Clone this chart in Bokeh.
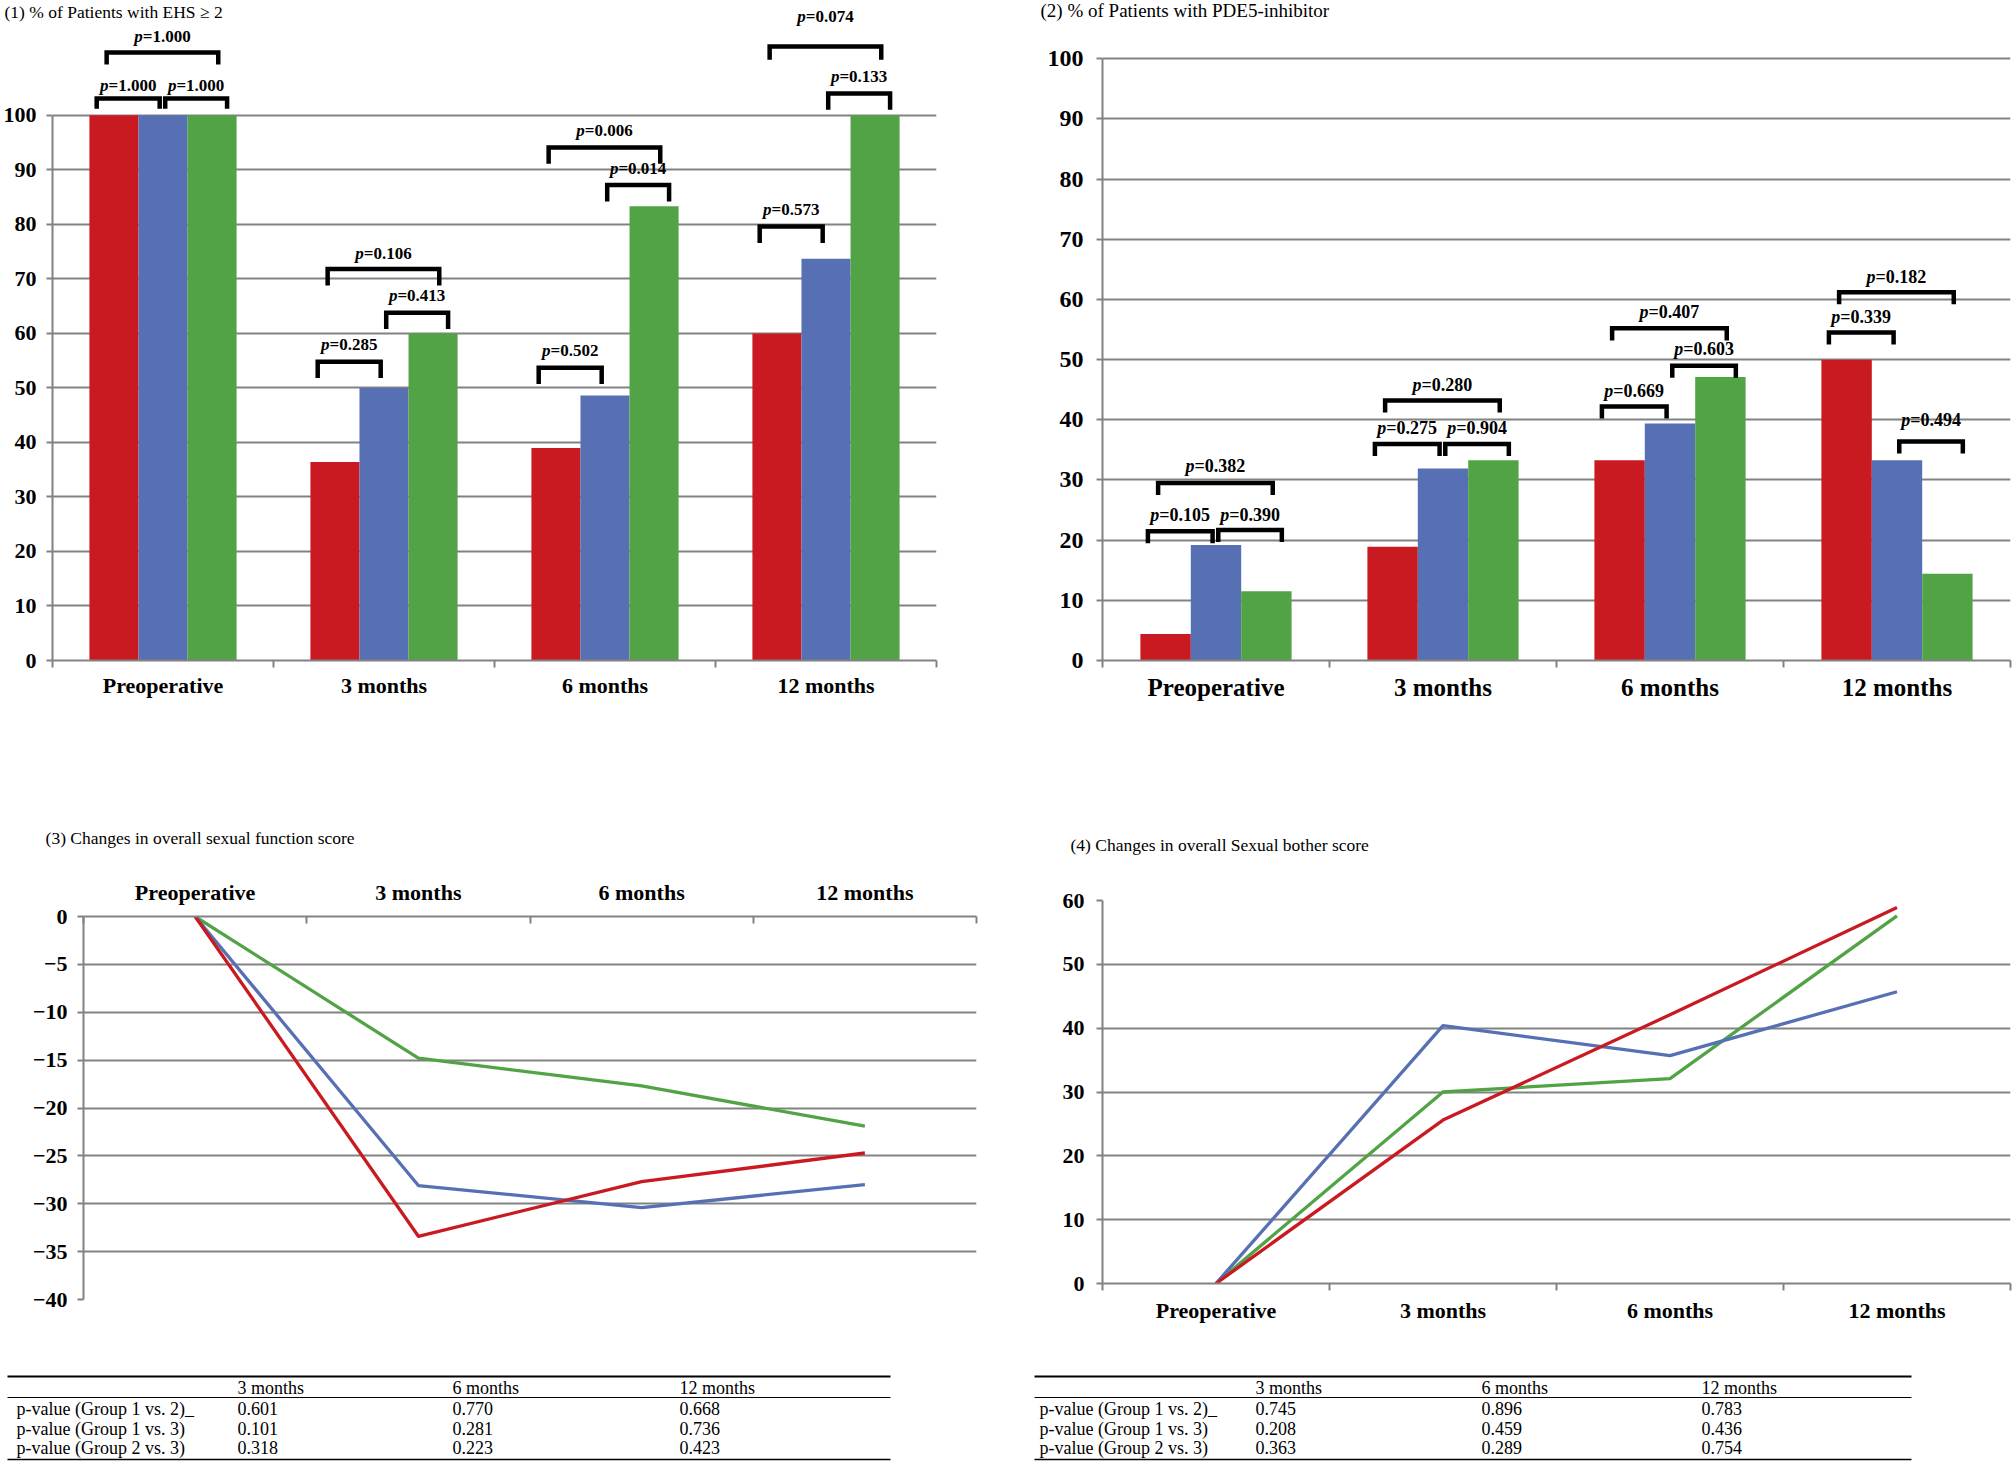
from bokeh.plotting import figure
from bokeh.models import Range1d, FixedTicker, ColumnDataSource
from bokeh.layouts import row, column
from bokeh.embed import file_html
from bokeh.resources import INLINE
from bokeh.core.properties import value

# ---------------- data ----------------
categories = ["Preoperative", "3 months", "6 months", "12 months"]

ehs_group1 = [100, 36.4, 39.0, 60.0]
ehs_group2 = [100, 50.0, 48.6, 73.7]
ehs_group3 = [100, 60.0, 83.3, 100]

pde_group1 = [4.4, 18.9, 33.3, 50.0]
pde_group2 = [19.2, 31.9, 39.4, 33.3]
pde_group3 = [11.5, 33.3, 47.1, 14.4]

func_group1 = [0, -33.4, -27.7, -24.7]
func_group2 = [0, -28.1, -30.4, -28.0]
func_group3 = [0, -14.8, -17.7, -21.9]

bother_group1 = [0, 25.6, 42.1, 58.9]
bother_group2 = [0, 40.4, 35.7, 45.7]
bother_group3 = [0, 30.0, 32.1, 57.6]

# p-values shown over bars: (category index, pair of groups, p-value)
ehs_pvalues = [
    (0, "12", "1.000"), (0, "23", "1.000"), (0, "13", "1.000"),
    (1, "12", "0.285"), (1, "23", "0.413"), (1, "13", "0.106"),
    (2, "12", "0.502"), (2, "23", "0.014"), (2, "13", "0.006"),
    (3, "12", "0.573"), (3, "23", "0.133"), (3, "13", "0.074"),
]
pde_pvalues = [
    (0, "12", "0.105"), (0, "23", "0.390"), (0, "13", "0.382"),
    (1, "12", "0.275"), (1, "23", "0.904"), (1, "13", "0.280"),
    (2, "12", "0.669"), (2, "23", "0.603"), (2, "13", "0.407"),
    (3, "12", "0.339"), (3, "23", "0.494"), (3, "13", "0.182"),
]

table_cols = ["3 months", "6 months", "12 months"]
table_rows = ["p-value (Group 1 vs. 2)_", "p-value (Group 1 vs. 3)", "p-value (Group 2 vs. 3)"]
func_table = [["0.601", "0.770", "0.668"],
              ["0.101", "0.281", "0.736"],
              ["0.318", "0.223", "0.423"]]
bother_table = [["0.745", "0.896", "0.783"],
                ["0.208", "0.459", "0.436"],
                ["0.363", "0.289", "0.754"]]

# ---------------- layout / style (not data) ----------------
RED, BLUE, GREEN = "#CA1A21", "#5670B3", "#52A346"
GRID = "#828282"
SERIF = "Liberation Serif"

# bracket geometry: (top of bracket, label centre) in axis units, same order as p-value lists
ehs_bracket_pos = [(103.1, 105.4), (103.1, 105.4), (111.5, 114.5),
                   (54.8, 57.9), (63.8, 67.0), (71.8, 74.6),
                   (53.7, 56.8), (87.2, 90.2), (94.1, 97.2),
                   (79.6, 82.7), (104.0, 107.2), (112.6, 118.1)]
ehs_leg = [1.9, 1.9, 2.2, 3.0, 3.0, 3.0, 3.0, 3.0, 3.0, 3.0, 3.0, 2.4]
pde_bracket_pos = [(21.5, 24.1), (21.7, 24.1), (29.5, 32.3),
                   (36.0, 38.6), (36.0, 38.6), (43.2, 45.8),
                   (42.2, 44.8), (49.0, 51.8), (55.2, 57.9),
                   (54.5, 57.1), (36.4, 39.9), (61.2, 63.8)]
pde_leg = [2.0] * 12
pair_span = {"12": (-0.30, -0.015), "23": (0.01, 0.29), "13": (-0.255, 0.25)}
bar_off = [-0.222, 0.0, 0.222]
bar_w = 0.222


def base_fig(w, h, l, r, t, b, yr, xloc="below"):
    p = figure(width=w, height=h, x_range=Range1d(0, 4), y_range=Range1d(*yr),
               output_backend="svg", toolbar_location=None,
               min_border_left=l, min_border_right=r, min_border_top=t, min_border_bottom=b,
               x_axis_location=xloc)
    p.outline_line_color = None
    p.background_fill_color = "white"
    p.border_fill_color = "white"
    return p


def style_axes(p, yticks, ybounds, tick_fs, cat_fs, ystand, xstand, minor_in=False):
    ya = p.yaxis[0]
    ya.ticker = FixedTicker(ticks=yticks)
    if ybounds is not None:
        ya.bounds = ybounds
    ya.axis_line_color = GRID
    ya.axis_line_width = 2
    ya.major_tick_line_color = GRID
    ya.major_tick_line_width = 2
    ya.major_tick_out = 6
    ya.major_tick_in = 0
    ya.minor_tick_line_color = None
    ya.major_label_standoff = ystand
    ya.major_label_text_font = SERIF
    ya.major_label_text_font_style = "bold"
    ya.major_label_text_font_size = tick_fs
    ya.major_label_text_color = "black"

    xa = p.xaxis[0]
    xa.ticker = FixedTicker(ticks=[0.5, 1.5, 2.5, 3.5], minor_ticks=[0, 1, 2, 3, 4])
    xa.major_label_overrides = {i + 0.5: c for i, c in enumerate(categories)}
    xa.axis_line_color = GRID
    xa.axis_line_width = 2
    xa.major_tick_line_color = None
    xa.major_tick_out = 0
    xa.major_tick_in = 0
    xa.minor_tick_line_color = GRID
    xa.minor_tick_line_width = 2
    if minor_in:
        xa.minor_tick_in = 7
        xa.minor_tick_out = 0
    else:
        xa.minor_tick_in = 0
        xa.minor_tick_out = 7
    xa.major_label_standoff = xstand
    xa.major_label_text_font = SERIF
    xa.major_label_text_font_style = "bold"
    xa.major_label_text_font_size = cat_fs
    xa.major_label_text_color = "black"

    p.xgrid.visible = False
    p.ygrid.ticker = FixedTicker(ticks=yticks)
    p.ygrid.grid_line_color = GRID
    p.ygrid.grid_line_width = 2


def add_title(p, x, y, text, fs):
    p.text(x=[x], y=[y], text=[text], text_font=value(SERIF), text_font_size=fs,
           text_baseline="middle", text_align="left", text_color="black", level="overlay")


def bar_panel(p, g1, g2, g3, pvals, pos, legs, pfs):
    for off, vals, col in zip(bar_off, [g1, g2, g3], [RED, BLUE, GREEN]):
        xs = [i + 0.5 + off for i in range(len(categories))]
        p.vbar(x=xs, top=vals, bottom=0, width=bar_w, fill_color=col, line_color=None)
    bx, by, lx, ly, ptxt = [], [], [], [], []
    for (ci, pair, pv), (top, lab), leg in zip(pvals, pos, legs):
        a, b = pair_span[pair]
        x1, x2 = ci + 0.5 + a, ci + 0.5 + b
        bx.append([x1, x1, x2, x2])
        by.append([top - leg, top, top, top - leg])
        lx.append((x1 + x2) / 2)
        ly.append(lab)
        ptxt.append("=" + pv)
    p.multi_line(xs=bx, ys=by, line_color="black", line_width=4.5, line_join="miter", line_cap="butt")
    src = ColumnDataSource(dict(x=lx, y=ly, t=ptxt, p=["p"] * len(lx)))
    W = pfs * 3.32
    p.text(x="x", y="y", text="p", source=src, text_font=value(SERIF), text_font_style="bold italic",
           text_font_size=f"{pfs}px", text_align="left", text_baseline="middle", x_offset=-W / 2,
           text_color="black", level="overlay")
    p.text(x="x", y="y", text="t", source=src, text_font=value(SERIF), text_font_style="bold",
           text_font_size=f"{pfs}px", text_align="left", text_baseline="middle",
           x_offset=-W / 2 + 0.5 * pfs, text_color="black", level="overlay")


def line_panel(p, g1, g2, g3):
    xs = [i + 0.5 for i in range(len(categories))]
    for vals, col in [(g3, GREEN), (g2, BLUE), (g1, RED)]:
        p.line(x=xs, y=vals, line_color=col, line_width=3.3, line_join="round")


# ---------------- panel 1 ----------------
p1 = base_fig(1000, 760, 51, 64, 0, 100, (0, 121.06))
style_axes(p1, list(range(0, 101, 10)), (0, 100), "22px", "22px", 10, 5)
bar_panel(p1, ehs_group1, ehs_group2, ehs_group3, ehs_pvalues, ehs_bracket_pos, ehs_leg, 17)
add_title(p1, -0.217, 119.0, "(1)  % of Patients with EHS \u2265 2", "17.5px")

# ---------------- panel 2 ----------------
p2 = base_fig(1013, 760, 102, 3, 0, 100, (0, 109.69))
style_axes(p2, list(range(0, 101, 10)), (0, 100), "24px", "25px", 13, 6)
bar_panel(p2, pde_group1, pde_group2, pde_group3, pde_pvalues, pde_bracket_pos, pde_leg, 18)
add_title(p2, -0.273, 108.0, "(2)  % of Patients with PDE5-inhibitor", "19px")

# ---------------- panel 3 ----------------
p3 = base_fig(1000, 606, 83, 24, 156, 67, (-40, 0), xloc="above")
style_axes(p3, list(range(-40, 1, 5)), None, "22px", "22px", 10, 12, minor_in=True)
line_panel(p3, func_group1, func_group2, func_group3)
add_title(p3, -0.170, 8.25, "(3)  Changes in overall sexual function score", "17.5px")

# ---------------- panel 4 ----------------
p4 = base_fig(1013, 606, 102, 3, 140, 83, (0, 60))
style_axes(p4, list(range(0, 61, 10)), None, "22px", "22px", 12, 7)
line_panel(p4, bother_group1, bother_group2, bother_group3)
add_title(p4, -0.141, 68.77, "(4)  Changes in overall Sexual bother score", "17.5px")


# ---------------- tables ----------------
def table_fig(w, l, r, x0, xl, xr, xlab, xcols, pv):
    # frame aligned with the chart above; data x equals page pixel x
    t = figure(width=w, height=95, x_range=Range1d(x0 + l, x0 + w - r), y_range=Range1d(1461, 1366),
               output_backend="svg", toolbar_location=None,
               min_border_left=l, min_border_right=r, min_border_top=0, min_border_bottom=0,
               x_axis_location=None, y_axis_location=None)
    t.outline_line_color = None
    t.xgrid.visible = False
    t.ygrid.visible = False
    t.segment(x0=[xl, xl, xl], y0=[1376, 1397, 1459], x1=[xr, xr, xr], y1=[1376, 1397, 1459],
              line_color="black", line_width=[2, 1.2, 1.6], level="overlay")
    tx, ty, tt = [], [], []
    for c, xc in zip(table_cols, xcols):
        tx.append(xc); ty.append(1387); tt.append(c)
    for r_i, yv in zip(range(len(table_rows)), [1408, 1428, 1447]):
        tx.append(xlab); ty.append(yv); tt.append(table_rows[r_i])
        for j, xc in enumerate(xcols):
            tx.append(xc); ty.append(yv); tt.append(pv[r_i][j])
    t.text(x=tx, y=ty, text=tt, text_font=value(SERIF), text_font_size="18px",
           text_align="left", text_baseline="middle", text_color="black", level="overlay")
    return t


t3 = table_fig(1000, 83, 24, 0, 7, 890, 16, [237, 452, 679], func_table)
t4 = table_fig(1013, 102, 3, 1000, 1034, 1911, 1039, [1255, 1481, 1701], bother_table)

layout = column(row(p1, p2), row(column(p3, t3), column(p4, t4)))
open("out.html", "w").write(file_html(layout, INLINE))
